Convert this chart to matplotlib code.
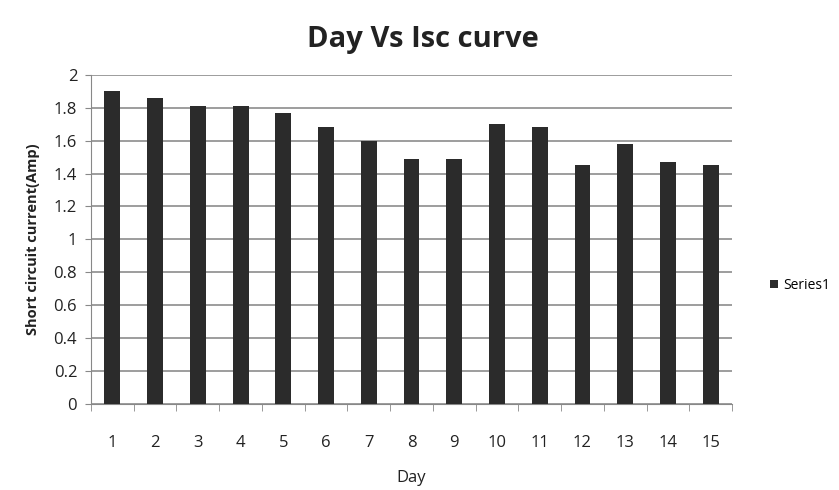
import matplotlib.pyplot as plt
import numpy as np

days = [str(d) for d in range(1, 16)]
isc = [1.90, 1.86, 1.81, 1.81, 1.77, 1.68, 1.60, 1.49, 1.49, 1.70, 1.68, 1.45, 1.58, 1.47, 1.45]
yticks = [0, 0.2, 0.4, 0.6, 0.8, 1, 1.2, 1.4, 1.6, 1.8, 2]
ytick_labels = ['0', '0.2', '0.4', '0.6', '0.8', '1', '1.2', '1.4', '1.6', '1.8', '2']

plt.rcParams['font.family'] = ['Open Sans', 'DejaVu Sans']

fig = plt.figure(figsize=(8.39, 4.90), dpi=100)
ax = fig.add_axes([0.1085, 0.1755, 0.764, 0.672])

x = np.arange(len(days))
ax.bar(x, isc, width=0.37, color='#2b2b2b', label='Series1', zorder=3)

ax.set_xlim(-0.5, len(days) - 0.5)
ax.set_ylim(0, 2)
ax.set_yticks(yticks)
ax.set_yticklabels(ytick_labels, fontsize=12, color='#222222')
ax.set_xticks(x)
ax.set_xticklabels(days, fontsize=12, color='#222222')
ax.tick_params(axis='x', length=0, pad=22)
ax.tick_params(axis='y', length=4, color='#888888', pad=6)
ax.set_xticks(np.arange(-0.5, len(days)), minor=True)
ax.tick_params(axis='x', which='minor', length=5, color='#888888')

ax.grid(axis='y', color='#8c8c8c', linewidth=1.2, zorder=0)
for side in ['top', 'right']:
    ax.spines[side].set_visible(False)
ax.spines['left'].set_color('#888888')
ax.spines['bottom'].set_color('#888888')

ax.set_title('Day Vs Isc curve', fontsize=21, fontweight='bold', color='#222222', pad=20, x=0.517)
ax.set_xlabel('Day', fontsize=12, color='#222222', labelpad=14)
ax.set_ylabel('Short circuit current(Amp)', fontsize=10.5, fontweight='bold', color='#222222', labelpad=10)

leg = ax.legend(loc='center left', bbox_to_anchor=(1.05, 0.36), borderaxespad=0, frameon=False,
                fontsize=10, handlelength=0.6, handleheight=0.6, handletextpad=0.4)

fig.savefig('out.png', dpi=100)
